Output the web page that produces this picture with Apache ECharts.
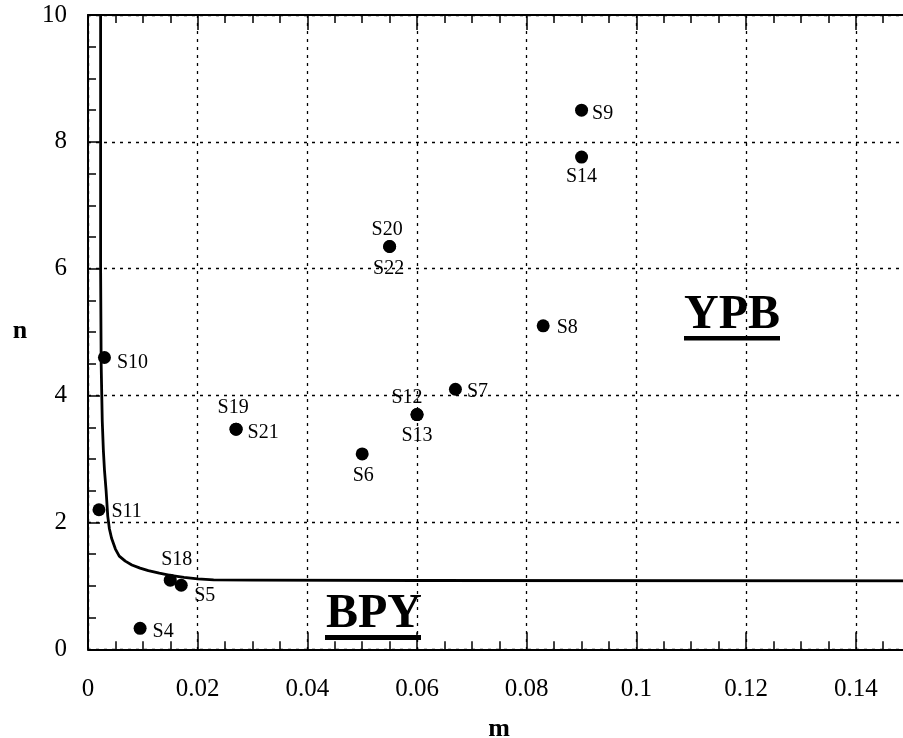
<!DOCTYPE html>
<html>
<head>
<meta charset="utf-8">
<script src="https://cdn.jsdelivr.net/npm/echarts/dist/echarts.min.js"></script>
<style>
html,body{margin:0;padding:0;background:#fff;overflow:hidden;}
#chart{width:1000px;height:738px;}
</style>
</head>
<body>
<div id="chart"></div>
<script>
// ---- data ----
const xTickLabels = ['0', '0.02', '0.04', '0.06', '0.08', '0.1', '0.12', '0.14'];
const yTickLabels = ['0', '2', '4', '6', '8', '10'];

// sample points (coincident samples share coordinates)
const pointNames = ['S4', 'S5', 'S6', 'S7', 'S8', 'S9', 'S10', 'S11', 'S12', 'S13', 'S14', 'S18', 'S19', 'S20', 'S21', 'S22'];
const pointM = [0.0095, 0.017, 0.050, 0.067, 0.083, 0.090, 0.003, 0.002, 0.060, 0.060, 0.090, 0.015, 0.027, 0.055, 0.027, 0.055];
const pointN = [0.33, 1.01, 3.08, 4.10, 5.10, 8.50, 4.60, 2.20, 3.70, 3.70, 7.76, 1.09, 3.47, 6.35, 3.47, 6.35];

// boundary curve between BPY and YPB
const curveM = [0.0023, 0.0023, 0.0024, 0.0026, 0.0028, 0.0030, 0.0033, 0.0036, 0.0039, 0.0043, 0.0050, 0.0057, 0.0068, 0.0080, 0.0095, 0.0110, 0.0130, 0.0150, 0.0175, 0.0200, 0.0229, 0.030, 0.060, 0.160];
const curveN = [10, 6, 4.5, 3.6, 3.14, 2.83, 2.5, 2.1, 1.9, 1.75, 1.58, 1.47, 1.39, 1.33, 1.28, 1.24, 1.20, 1.165, 1.135, 1.11, 1.095, 1.09, 1.085, 1.08];

const regionLabels = ['YPB', 'BPY'];
const axisNames = ['m', 'n'];

// ---- styles (label placement) ----
const labelPlacement = {
  S4:  {position: 'right',  distance: 6,   offset: [0, 3]},
  S5:  {position: 'right',  distance: 6.5, offset: [0, 10.5]},
  S6:  {position: 'bottom', distance: 5,   offset: [1, 0]},
  S7:  {position: 'right',  distance: 5,   offset: [0, 3]},
  S8:  {position: 'right',  distance: 7,   offset: [0, 2]},
  S9:  {position: 'right',  distance: 4,   offset: [0, 4]},
  S10: {position: 'right',  distance: 6,   offset: [0, 5]},
  S11: {position: 'right',  distance: 6,   offset: [0, 2]},
  S12: {position: 'top',    distance: 0,   offset: [-10, 0]},
  S13: {position: 'bottom', distance: 5,   offset: [0, 0]},
  S14: {position: 'bottom', distance: 3,   offset: [0, 0]},
  S18: {position: 'top',    distance: 4,   offset: [6.5, 0]},
  S19: {position: 'top',    distance: 5,   offset: [-3, 0]},
  S20: {position: 'top',    distance: 0,   offset: [-2.5, 0]},
  S21: {position: 'right',  distance: 5,   offset: [0, 4]},
  S22: {position: 'bottom', distance: 6,   offset: [-1, 0]}
};

const FONT = '"Liberation Serif", "Times New Roman", serif';
const SCALE_X = 5484;           // px per unit m
const X_MAX = 0.16;
const GRID_LEFT = 88, GRID_TOP = 15, GRID_BOTTOM = 738 - 649.3;
const gridWidth = X_MAX * SCALE_X;

const pointData = pointNames.map((name, i) => {
  const p = labelPlacement[name];
  return {
    name: name,
    value: [pointM[i], pointN[i]],
    label: {
      show: true,
      formatter: name,
      position: p.position,
      distance: p.distance,
      offset: p.offset,
      fontFamily: FONT,
      fontSize: 20,
      color: '#000'
    }
  };
});
const curveData = curveM.map((m, i) => [m, curveN[i]]);

const chart = echarts.init(document.getElementById('chart'), null, {renderer: 'canvas'});

const gridLine = {show: true, lineStyle: {color: '#000', type: [3, 5], width: 1.3}};

const option = {
  backgroundColor: '#fff',
  animation: false,
  grid: {left: GRID_LEFT, top: GRID_TOP, bottom: GRID_BOTTOM, width: gridWidth, containLabel: false},
  xAxis: [
    {
      type: 'value', position: 'bottom', min: 0, max: X_MAX, interval: 0.02,
      axisLine: {show: true, onZero: false, lineStyle: {color: '#000', width: 2}},
      axisTick: {show: true, inside: true, length: 17, lineStyle: {color: '#000', width: 1.5}},
      minorTick: {show: true, splitNumber: 4, length: 8, lineStyle: {color: '#000', width: 1.5}},
      axisLabel: {
        margin: 28, fontFamily: FONT, fontSize: 25, color: '#000',
        formatter: function (v) {
          const idx = Math.round(v / 0.02);
          return (Math.abs(v - idx * 0.02) < 1e-9 && idx < xTickLabels.length) ? xTickLabels[idx] : '';
        }
      },
      splitLine: gridLine
    },
    {
      type: 'value', position: 'top', min: 0, max: X_MAX, interval: 0.02,
      axisLine: {show: true, onZero: false, lineStyle: {color: '#000', width: 2}},
      axisTick: {show: true, inside: true, length: 15, lineStyle: {color: '#000', width: 1.5}},
      minorTick: {show: true, splitNumber: 4, length: 8, lineStyle: {color: '#000', width: 1.5}},
      axisLabel: {show: false},
      splitLine: {show: false}
    }
  ],
  yAxis: {
    type: 'value', min: 0, max: 10, interval: 2,
    axisLine: {show: true, onZero: false, lineStyle: {color: '#000', width: 2}},
    axisTick: {show: true, inside: true, length: 12, lineStyle: {color: '#000', width: 1.5}},
    minorTick: {show: true, splitNumber: 4, length: 8, lineStyle: {color: '#000', width: 1.5}},
    axisLabel: {
      margin: 21, fontFamily: FONT, fontSize: 25, color: '#000',
      formatter: function (v) { const i = Math.round(v / 2); return yTickLabels[i] !== undefined ? yTickLabels[i] : ''; }
    },
    splitLine: gridLine
  },
  series: [
    {
      type: 'line', data: curveData, showSymbol: false, symbol: 'none', smooth: false,
      lineStyle: {color: '#000', width: 2.8, join: 'round'}, z: 3, silent: true
    },
    {
      type: 'scatter', data: pointData, symbol: 'circle', symbolSize: 13,
      itemStyle: {color: '#000', opacity: 1}, z: 4, silent: true
    }
  ],
  graphic: [
    {type: 'text', left: 684, top: 292, z: 10,
      style: {text: regionLabels[0], font: 'bold 48px ' + FONT, fill: '#000'}},
    {type: 'rect', shape: {x: 684, y: 336, width: 96, height: 4.5}, style: {fill: '#000'}, z: 10},
    {type: 'text', left: 326, top: 591, z: 10,
      style: {text: regionLabels[1], font: 'bold 48px ' + FONT, fill: '#000'}},
    {type: 'rect', shape: {x: 325, y: 635, width: 96, height: 5}, style: {fill: '#000'}, z: 10},
    {type: 'text', x: 499, y: 729, z: 10,
      style: {text: axisNames[0], font: 'bold 26px ' + FONT, fill: '#000', textAlign: 'center', textVerticalAlign: 'middle'}},
    {type: 'text', x: 20, y: 331, z: 10,
      style: {text: axisNames[1], font: 'bold 26px ' + FONT, fill: '#000', textAlign: 'center', textVerticalAlign: 'middle'}}
  ]
};
chart.setOption(option);
</script>
</body>
</html>
